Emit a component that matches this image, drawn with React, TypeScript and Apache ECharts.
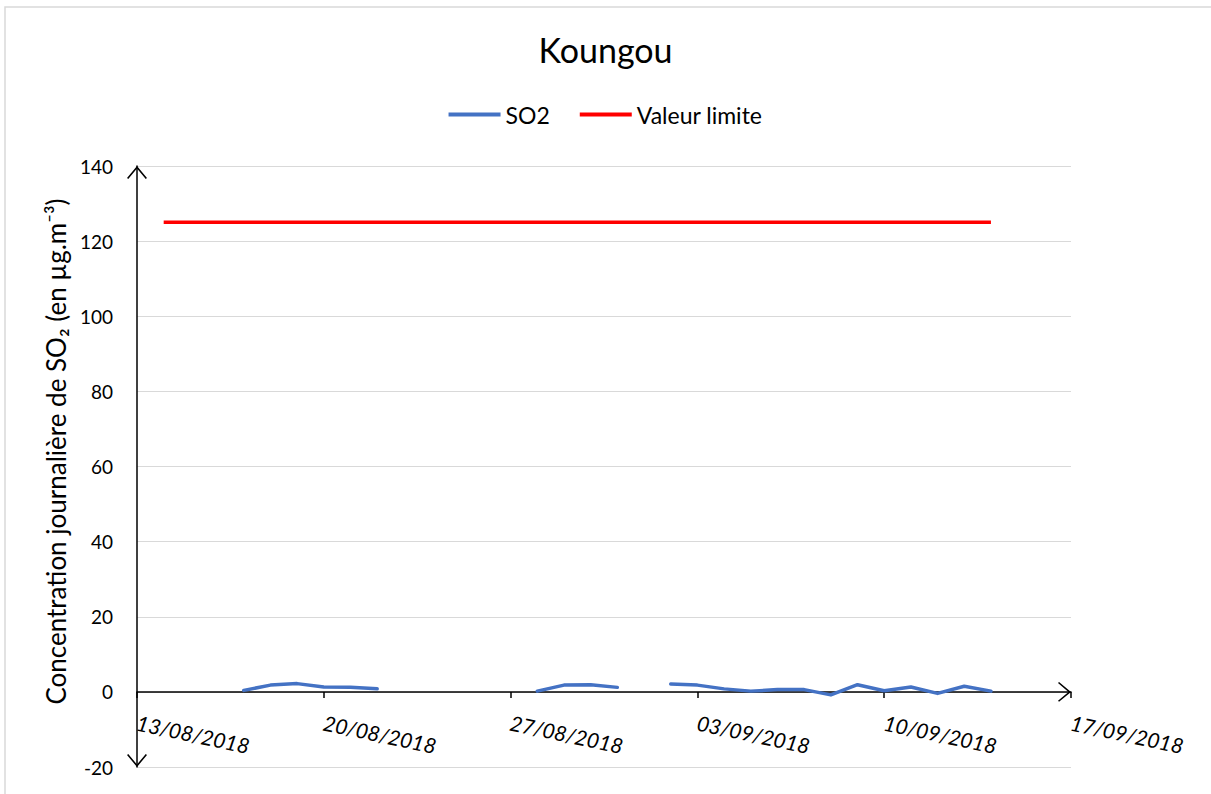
import React, { useEffect, useRef } from "react";
import * as echarts from "echarts";

const TITLE = "Koungou";
const Y_NAME = "Concentration journalière de SO₂ (en µg.m⁻³)";
const X_START = "13/08/2018";
const X_END = "17/09/2018";
const X_STEP_DAYS = 7;
const Y_MIN = -20;
const Y_MAX = 140;
const Y_STEP = 20;

const so2Dates = [
  "17/08/2018", "18/08/2018", "19/08/2018", "20/08/2018", "21/08/2018", "22/08/2018",
  "23/08/2018", "24/08/2018", "25/08/2018", "26/08/2018", "27/08/2018",
  "28/08/2018", "29/08/2018", "30/08/2018", "31/08/2018", "01/09/2018",
  "02/09/2018", "03/09/2018", "04/09/2018", "05/09/2018", "06/09/2018", "07/09/2018",
  "08/09/2018", "09/09/2018", "10/09/2018", "11/09/2018", "12/09/2018", "13/09/2018", "14/09/2018",
];
const so2Values: (number | null)[] = [
  0.4, 1.8, 2.2, 1.3, 1.2, 0.8,
  null, null, null, null, null,
  0.2, 1.8, 1.9, 1.2, null,
  2.1, 1.8, 0.8, 0.2, 0.6, 0.6,
  -0.8, 1.9, 0.3, 1.3, -0.4, 1.5, 0.2,
];

const limitDates = ["14/08/2018", "14/09/2018"];
const limitValues = [125, 125];

const DAY = 86400000;
const parse = (s: string) => {
  const [d, m, y] = s.split("/").map(Number);
  return Date.UTC(y, m - 1, d);
};
const base = parse(X_START);
const dayIndex = (s: string) => Math.round((parse(s) - base) / DAY);
const pad = (n: number) => (n < 10 ? "0" + n : "" + n);
const fmt = (v: number) => {
  const d = new Date(base + v * DAY);
  return `${pad(d.getUTCDate())}/${pad(d.getUTCMonth() + 1)}/${d.getUTCFullYear()}`;
};

const CHEVRON = "path://M0,12 L10,0 L20,12 L18.77,13.02 L10,2.5 L1.23,13.02 Z";
const FONT = "Lato";

const W = 1211;
const H = 794;
const GRID = { left: 137, right: 140, top: 166, bottom: 27 };

export default function App() {
  const ref = useRef<HTMLDivElement>(null);
  useEffect(() => {
    if (!ref.current) return;
    const chart = echarts.init(ref.current, undefined, { renderer: "svg" });
    const gridH = H - GRID.top - GRID.bottom;
    // lift the x axis from the grid bottom (Y_MIN) to the value 0
    const zeroLift = ((0 - Y_MIN) / (Y_MAX - Y_MIN)) * gridH;
    chart.setOption({
      animation: false,
      backgroundColor: "#ffffff",
      textStyle: { fontFamily: FONT },
      title: {
        text: TITLE,
        left: "center",
        top: 27,
        textStyle: { fontFamily: FONT, fontSize: 34, fontWeight: "normal", color: "#000" },
      },
      legend: {
        top: 98,
        left: "center",
        itemWidth: 52,
        itemHeight: 4,
        itemGap: 30,
        icon: "rect",
        textStyle: { fontFamily: FONT, fontSize: 23, color: "#000" },
        data: ["SO2", "Valeur limite"],
      },
      graphic: [
        {
          type: "rect",
          shape: { x: 5, y: 7, width: 1300, height: 900 },
          style: { fill: "none", stroke: "#d9d9d9", lineWidth: 1.5 },
          silent: true,
        },
      ],
      grid: {
        ...GRID,
        containLabel: false,
        outerBoundsMode: "none",
      },
      xAxis: {
        type: "value",
        min: 0,
        max: dayIndex(X_END),
        interval: X_STEP_DAYS,
        offset: -zeroLift,
        axisLine: {
          onZero: false,
          lineStyle: { color: "#000", width: 1.5 },
          symbol: ["none", CHEVRON],
          symbolSize: [20, 13],
          symbolOffset: [0, -6.5],
        },
        axisTick: { show: true, length: 6, lineStyle: { color: "#000", width: 1.5 } },
        axisLabel: {
          rotate: -12,
          margin: 30,
          fontFamily: FONT,
          fontStyle: "italic",
          fontSize: 21,
          color: "#000",
          showMinLabel: true,
          showMaxLabel: true,
          hideOverlap: false,
          formatter: (v: number) => fmt(v),
        },
        splitLine: { show: false },
      },
      yAxis: {
        type: "value",
        min: Y_MIN,
        max: Y_MAX,
        interval: Y_STEP,
        name: Y_NAME,
        nameLocation: "middle",
        nameGap: 68,
        nameTextStyle: { fontFamily: FONT, fontSize: 26, color: "#000", padding: [0, 0, 0, 30] },
        axisLine: {
          show: true,
          onZero: false,
          lineStyle: { color: "#000", width: 1.5 },
          symbol: [CHEVRON, CHEVRON],
          symbolSize: [20, 13],
          symbolOffset: [6.5, -6.5],
        },
        axisTick: { show: false },
        axisLabel: { margin: 24, fontFamily: FONT, fontSize: 19, color: "#000" },
        splitLine: { show: true, lineStyle: { color: "#d9d9d9", width: 1 } },
      },
      series: [
        {
          name: "SO2",
          type: "line",
          data: so2Dates.map((d, i) => [dayIndex(d), so2Values[i] === null ? "-" : so2Values[i]]),
          showSymbol: false,
          symbol: "none",
          connectNulls: false,
          lineStyle: { color: "#4472C4", width: 3.5, join: "round", cap: "round" },
          itemStyle: { color: "#4472C4" },
          z: 3,
        },
        {
          name: "Valeur limite",
          type: "line",
          data: limitDates.map((d, i) => [dayIndex(d), limitValues[i]]),
          showSymbol: false,
          symbol: "none",
          lineStyle: { color: "#FF0000", width: 3.5 },
          itemStyle: { color: "#FF0000" },
          z: 3,
        },
      ],
    });
    return () => chart.dispose();
  }, []);
  return (
    <div
      ref={ref}
      style={{ position: "fixed", left: 0, top: 0, width: W, height: H, background: "#fff" }}
    />
  );
}
